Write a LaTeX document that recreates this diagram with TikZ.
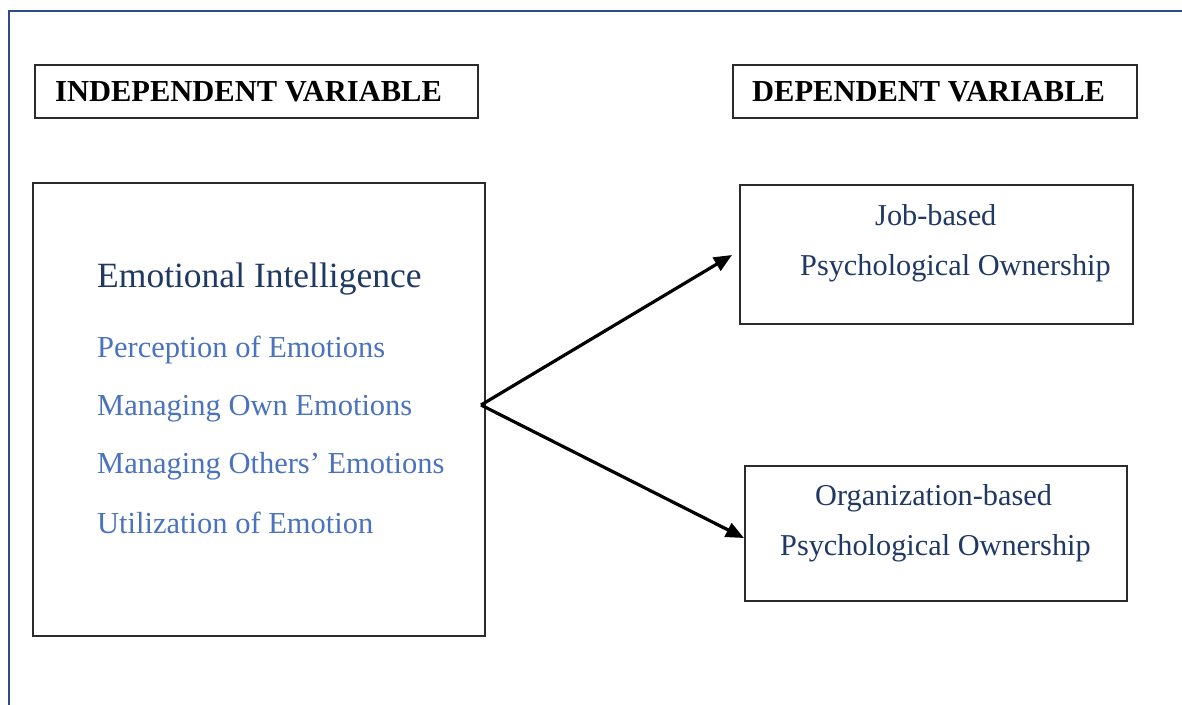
\documentclass[tikz,border=0pt]{standalone}
\usepackage{fontspec}
\setmainfont{Liberation Serif}
\usetikzlibrary{arrows.meta}
\definecolor{frameblue}{HTML}{2F4B8C}
\definecolor{navy}{HTML}{1F3864}
\definecolor{itemblue}{HTML}{4A72BE}
\definecolor{boxgray}{HTML}{2B2B2B}
\tikzset{
  varbox/.style={draw=boxgray, line width=1.8pt, inner sep=0pt, fill=none},
  headtext/.style={anchor=base west, inner sep=0pt, font=\fontsize{30.5}{36}\selectfont\bfseries, text=black},
  titletext/.style={anchor=base west, inner sep=0pt, font=\fontsize{35.5}{40}\selectfont, text=navy},
  itemtext/.style={anchor=base west, inner sep=0pt, font=\fontsize{30.5}{36}\selectfont, text=itemblue},
  dvtext/.style={anchor=base west, inner sep=0pt, font=\fontsize{30.3}{36}\selectfont, text=navy},
  link/.style={draw=black, line width=3.2pt, -{Triangle[length=18pt,width=15pt]}}
}
\begin{document}
\begin{tikzpicture}[x=1pt,y=-1pt]
\useasboundingbox (0,0) rectangle (1182,704);

% outer frame, open towards the right and bottom
\draw[frameblue, line width=2pt] (1200,11) -- (8.5,11) -- (8.5,720);

% heading boxes
\node[varbox, minimum width=443pt, minimum height=53pt] (ivhead) at (256.5,91.5) {};
\node[varbox, minimum width=404pt, minimum height=53pt] (dvhead) at (935,91.5) {};
\node[headtext] (ivlabel) at (55,101) {INDEPENDENT VARIABLE};
\node[headtext] (dvlabel) at (752,101) {DEPENDENT VARIABLE};

% independent variable box
\node[varbox, minimum width=452pt, minimum height=453pt] (ei) at (259,409.5) {};
\node[titletext] (eititle) at (97,287) {Emotional Intelligence};
\node[itemtext] (perc) at (97,357) {Perception of Emotions};
\node[itemtext] (own) at (97,415) {Managing Own Emotions};
\node[itemtext] (others) at (97,473) {Managing Others’ Emotions};
\node[itemtext] (util) at (97,533) {Utilization of Emotion};

% dependent variable boxes
\node[varbox, minimum width=393pt, minimum height=139pt] (job) at (936.5,254.5) {};
\node[dvtext] (job1) at (875,225) {Job-based};
\node[dvtext] (job2) at (800,275) {Psychological Ownership};

\node[varbox, minimum width=382pt, minimum height=135pt] (org) at (936,533.5) {};
\node[dvtext] (org1) at (815,505) {Organization-based};
\node[dvtext] (org2) at (780,555) {Psychological Ownership};

% links
\coordinate (src) at (481,405);
\coordinate (jobtip) at (732,255);
\coordinate (orgtip) at (744,538);
\draw[link] (src) -- (jobtip);
\draw[link] (src) -- (orgtip);
\end{tikzpicture}
\end{document}
